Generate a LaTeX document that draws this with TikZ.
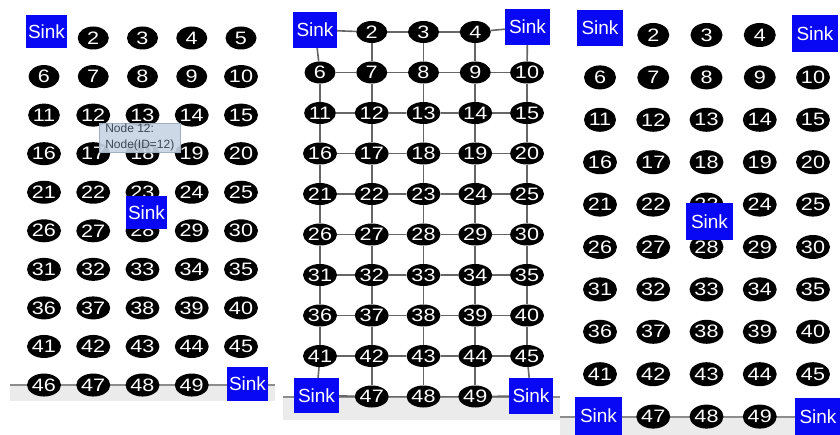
\documentclass[tikz,border=0pt]{standalone}
\usepackage{fontspec}
\setmainfont{Liberation Sans}
\usetikzlibrary{shapes.geometric,backgrounds}
\definecolor{sinkblue}{RGB}{8,8,245}
\definecolor{tipfill}{RGB}{200,212,228}
\definecolor{tipdraw}{RGB}{160,175,195}
\definecolor{tiptext}{RGB}{60,70,85}
\newcommand{\nlab}[1]{\scalebox{1.2}[1]{#1}}
\tikzset{
  nd/.style={ellipse, fill=black, text=white, inner sep=0pt, font=\fontsize{18}{18}\selectfont},
  ndA/.style={nd, minimum width=31pt, minimum height=23pt},
  ndB/.style={nd, minimum width=31pt, minimum height=22pt},
  ndC/.style={nd, minimum width=32pt, minimum height=24pt},
  sink/.style={rectangle, fill=sinkblue, text=white, inner sep=0pt, font=\fontsize{19}{19}\selectfont},
  edge/.style={draw=black!60, line width=1.6pt},
  band/.style={fill=black!8},
  baseln/.style={draw=black!45, line width=1.2pt},
  tip/.style={rectangle, fill=tipfill, draw=tipdraw, line width=0.6pt, fill opacity=0.9, text opacity=1, text=tiptext, align=left, inner sep=1pt, font=\fontsize{12}{16}\selectfont, minimum width=81pt, minimum height=29pt, anchor=north west}
}
\begin{document}
\begin{tikzpicture}[x=1pt,y=-1pt]
\useasboundingbox (0,0) rectangle (840,435);
\begin{pgfonlayer}{background}
  \fill[white] (0,0) rectangle (840,435);
  \fill[band] (10,385) rectangle (275,401);
  \draw[baseln] (10,385) -- (275,385);
  \fill[band] (283,397) rectangle (560,420);
  \draw[baseln] (283,397) -- (560,397);
  \fill[band] (560,417) rectangle (840,435);
  \draw[baseln] (560,417) -- (840,417);
\end{pgfonlayer}

% ---------- Panel 1 ----------
\foreach \n in {2,...,49}{
  \pgfmathtruncatemacro\prow{div(\n-1,5)}
  \pgfmathtruncatemacro\pcol{mod(\n-1,5)}
  \node[ndA] (a\n) at ({44+49.25*\pcol},{38+38.56*\prow}) {\nlab{\n}};
}
\node[sink, minimum width=41pt, minimum height=33pt] (a1) at (46.5,31.5) {Sink};
\node[sink, minimum width=41pt, minimum height=34pt] (a50) at (247.5,384) {Sink};
\node[sink, minimum width=41pt, minimum height=33pt] (aS) at (146.5,212.5) {Sink};
\node[tip] (tip) at (99,123) {Node 12:\\Node(ID=12)};

% ---------- Panel 2 ----------
\foreach \n in {2,3,4,6,7,...,45,47,48,49}{
  \pgfmathtruncatemacro\prow{div(\n-1,5)}
  \pgfmathtruncatemacro\pcol{mod(\n-1,5)}
  \node[ndB] (b\n) at ({320+51.75*\pcol},{32+40.5*\prow}) {\nlab{\n}};
}
\node[sink, minimum width=44pt, minimum height=36pt] (b1) at (315,30) {Sink};
\node[sink, minimum width=45pt, minimum height=36pt] (b5) at (527.5,27) {Sink};
\node[sink, minimum width=45pt, minimum height=35pt] (b46) at (316.5,395.5) {Sink};
\node[sink, minimum width=44pt, minimum height=36pt] (b50) at (531,396) {Sink};
\begin{pgfonlayer}{background}
\foreach \n in {1,...,50}{
  \pgfmathtruncatemacro\prow{div(\n-1,5)}
  \pgfmathtruncatemacro\pcol{mod(\n-1,5)}
  \pgfmathtruncatemacro\nr{\n+1}
  \pgfmathtruncatemacro\nd{\n+5}
  \ifnum\pcol<4 \draw[edge] (b\n) -- (b\nr); \fi
  \ifnum\prow<9 \draw[edge] (b\n) -- (b\nd); \fi
}
\end{pgfonlayer}

% ---------- Panel 3 ----------
\foreach \n in {2,3,4,6,7,...,45,47,48,49}{
  \pgfmathtruncatemacro\prow{div(\n-1,5)}
  \pgfmathtruncatemacro\pcol{mod(\n-1,5)}
  \node[ndC] (c\n) at ({600+53.25*\pcol},{35+42.4*\prow}) {\nlab{\n}};
}
\node[sink, minimum width=46pt, minimum height=36pt] (c1) at (600,28) {Sink};
\node[sink, minimum width=46pt, minimum height=37pt] (c5) at (815,33.5) {Sink};
\node[sink, minimum width=47pt, minimum height=37pt] (cS) at (709.5,221.5) {Sink};
\node[sink, minimum width=47pt, minimum height=38pt] (c46) at (598.5,416) {Sink};
\node[sink, minimum width=46pt, minimum height=38pt] (c50) at (818,416.5) {Sink};
\end{tikzpicture}
\end{document}
